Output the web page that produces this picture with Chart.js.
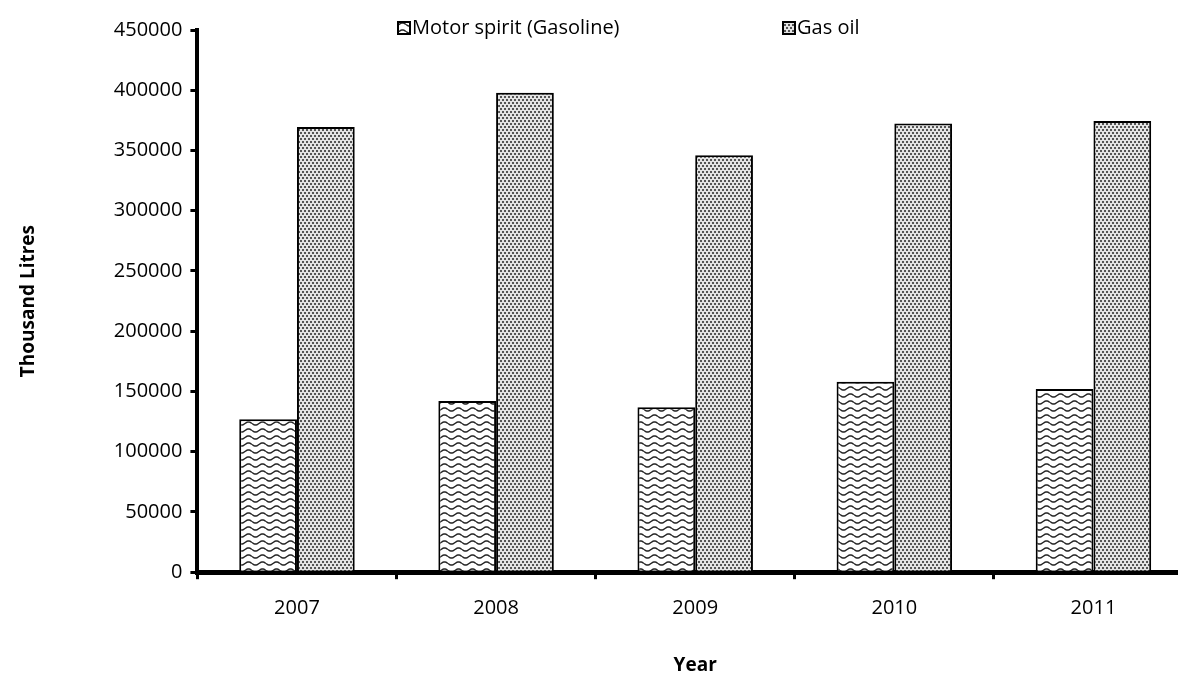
<!DOCTYPE html>
<html>
<head>
<meta charset="utf-8">
<script src="https://cdn.jsdelivr.net/npm/chart.js@4.4.0/dist/chart.umd.min.js"></script>
<style>
body { margin: 0; background: #fff; overflow: hidden; }
#wrap { width: 1196px; height: 677px; }
</style>
</head>
<body>
<div id="wrap"><canvas id="fuelchart"></canvas></div>
<script>
let years = ['2007', '2008', '2009', '2010', '2011'];
let gasoline = [127000, 142000, 137000, 158000, 152000];
let gasOil = [369500, 398000, 346000, 372500, 374500];
let seriesNames = ['Motor spirit (Gasoline)', 'Gas oil'];

const fontName = "'Open Sans', 'Liberation Sans', sans-serif";

function wavePattern()
{
    let c = document.createElement('canvas');
    c.width = 14;
    c.height = 7;
    let ctx = c.getContext('2d');
    ctx.fillStyle = '#fff';
    ctx.fillRect(0, 0, 14, 7);
    ctx.strokeStyle = '#222';
    ctx.lineWidth = 1.4;
    ctx.beginPath();
    for (let x = 0; x <= 14; x++)
    {
        let y = 3.5 + 1.6 * Math.sin(x / 14 * Math.PI * 2);
        if (x == 0) ctx.moveTo(x, y); else ctx.lineTo(x, y);
    }
    ctx.stroke();
    return ctx.createPattern(c, 'repeat');
}

function dotPattern()
{
    let c = document.createElement('canvas');
    c.width = 4;
    c.height = 6;
    let ctx = c.getContext('2d');
    ctx.fillStyle = '#e4e4e4';
    ctx.fillRect(0, 0, 4, 6);
    ctx.fillStyle = '#555';
    ctx.fillRect(0, 0, 2, 2);
    ctx.fillRect(2, 3, 2, 2);
    return ctx.createPattern(c, 'repeat');
}

let fills = [wavePattern(), dotPattern()];

// legend drawn by hand so the items sit where they are in the original
const legendPlugin = {
    id: 'manualLegend',
    afterDraw(chart)
    {
        let ctx = chart.ctx;
        let spots = [398, 783];
        ctx.save();
        ctx.font = '20px ' + fontName;
        ctx.textBaseline = 'middle';
        for (let i = 0; i < 2; i++)
        {
            let x = spots[i];
            ctx.fillStyle = fills[i];
            ctx.fillRect(x, 22, 12, 12);
            ctx.strokeStyle = '#000';
            ctx.lineWidth = 2;
            ctx.strokeRect(x, 22, 12, 12);
            ctx.fillStyle = '#000';
            ctx.fillText(seriesNames[i], x + 14, 28);
        }
        ctx.restore();
    }
};

let canvasElement = document.getElementById('fuelchart');

const dataGraph = {
    labels: years,
    datasets: [{
        label: seriesNames[0],
        data: gasoline,
        backgroundColor: fills[0],
        borderColor: '#000',
        borderWidth: 2,
        borderSkipped: 'bottom'
    }, {
        label: seriesNames[1],
        data: gasOil,
        backgroundColor: fills[1],
        borderColor: '#000',
        borderWidth: 2,
        borderSkipped: 'bottom'
    }]
};

var config = {
    type: 'bar',
    data: dataGraph,
    plugins: [legendPlugin],
    options: {
        responsive: true,
        maintainAspectRatio: false,
        animation: false,
        layout: { padding: { top: 30, left: 13, right: 3, bottom: 0 } },
        datasets: { bar: { categoryPercentage: 0.58, barPercentage: 1.0 } },
        plugins: {
            legend: { display: false },
            tooltip: { enabled: false }
        },
        scales: {
            x: {
                grid: { offset: true, drawOnChartArea: false, color: '#000', lineWidth: 3, tickLength: 7 },
                border: { color: '#000', width: 5 },
                ticks: { color: '#000', font: { family: fontName, size: 20 }, padding: 17 },
                title: { display: true, text: 'Year', color: '#000', font: { family: fontName, size: 19, weight: 'bold' }, padding: { top: 17, bottom: 0 } }
            },
            y: {
                min: 0,
                max: 450000,
                ticks: {
                    stepSize: 50000, color: '#000', font: { family: fontName, size: 20 }, padding: 8,
                    callback: function (v) { return String(v); }
                },
                grid: { drawOnChartArea: false, drawTicks: true, color: '#000', lineWidth: 3, tickLength: 7 },
                border: { color: '#000', width: 4 },
                title: { display: true, text: 'Thousand Litres', color: '#000', font: { family: fontName, size: 19, weight: 'bold' }, padding: { bottom: 66 } }
            }
        }
    }
};

var fuelchart = new Chart(canvasElement, config);
</script>
</body>
</html>
